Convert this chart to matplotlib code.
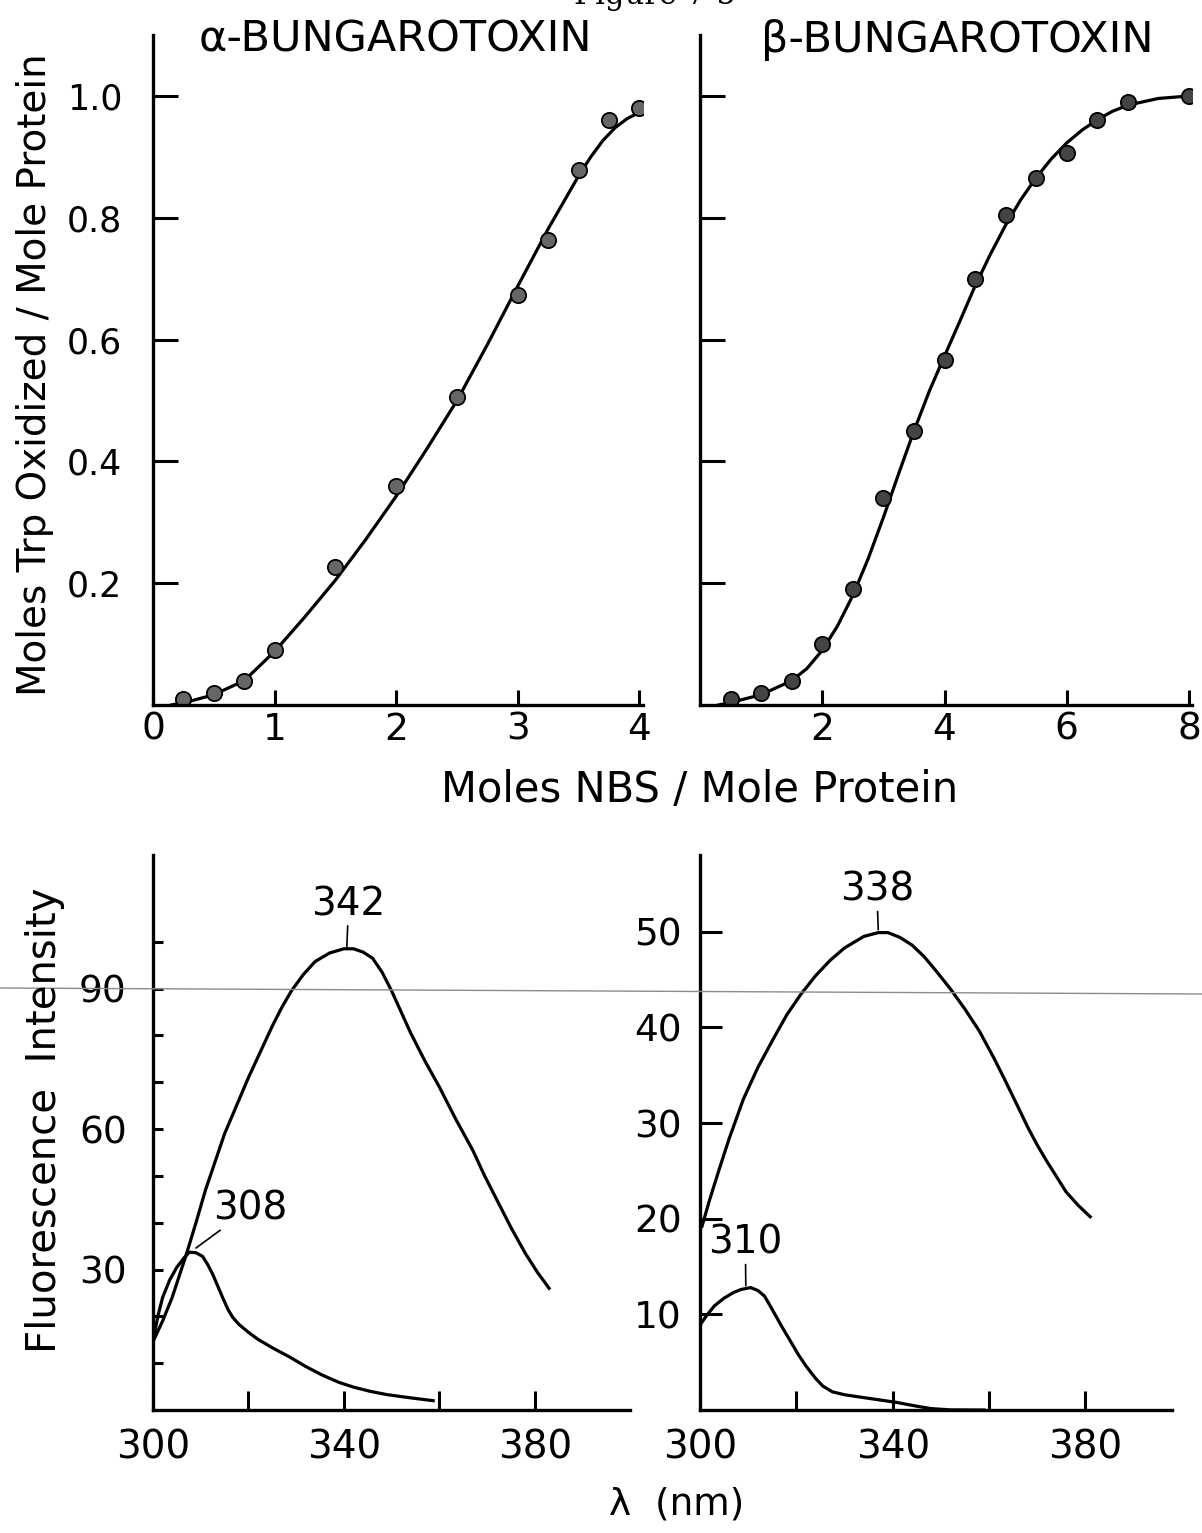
import matplotlib
matplotlib.use('Agg')
from matplotlib import pyplot as plt
from matplotlib.lines import Line2D

plt.rcParams['font.family'] = ['DejaVu Sans']

# top panels: NBS titration points
alpha_nbs = [0.25, 0.5, 0.75, 1.0, 1.5, 2.0, 2.5, 3.0, 3.25, 3.5, 3.75, 4.0]
alpha_trp = [0.01, 0.02, 0.04, 0.09, 0.227, 0.36, 0.505, 0.674, 0.764, 0.878, 0.96, 0.98]
alpha_fit_x = [0.15, 0.3, 0.5, 0.75, 1.0, 1.25, 1.5, 1.75, 2.0, 2.25, 2.5, 2.75,
               3.0, 3.25, 3.5, 3.6, 3.7, 3.8, 3.9, 4.0]
alpha_fit_y = [0.0, 0.006, 0.017, 0.04, 0.088, 0.145, 0.205, 0.272, 0.343, 0.42,
               0.5, 0.592, 0.688, 0.782, 0.869, 0.9, 0.927, 0.948, 0.963, 0.973]

beta_nbs = [0.5, 1.0, 1.5, 2.0, 2.5, 3.0, 3.5, 4.0, 4.5, 5.0, 5.5, 6.0, 6.5, 7.0, 8.0]
beta_trp = [0.01, 0.02, 0.04, 0.10, 0.19, 0.34, 0.45, 0.566, 0.70, 0.805, 0.866,
            0.906, 0.96, 0.99, 1.0]
beta_fit_x = [0.3, 0.5, 1.0, 1.5, 1.75, 2.0, 2.25, 2.5, 2.75, 3.0, 3.25, 3.5, 3.75,
              4.0, 4.25, 4.5, 4.75, 5.0, 5.25, 5.5, 5.75, 6.0, 6.25, 6.5, 6.75,
              7.0, 7.5, 8.0]
beta_fit_y = [0.0, 0.004, 0.017, 0.04, 0.06, 0.09, 0.13, 0.18, 0.24, 0.308, 0.38,
              0.45, 0.515, 0.573, 0.63, 0.688, 0.74, 0.788, 0.83, 0.866, 0.897,
              0.923, 0.944, 0.961, 0.975, 0.985, 0.996, 1.0]

# bottom panels: fluorescence spectra
a342_wl = [300, 302, 304, 307, 309, 311, 313, 315, 317.5, 320, 322.5, 325, 327, 329,
           331.5, 334, 337, 340, 342, 344, 346, 348, 350, 352, 354, 357, 360, 363.5,
           367, 369.5, 372, 375, 378, 380.5, 383]
a342_int = [14.6, 19, 24, 33.3, 40, 47, 53, 59, 65, 71, 76.5, 82, 86, 89.5, 93,
            95.8, 97.6, 98.5, 98.5, 97.8, 96.5, 93.5, 89.5, 85, 80.5, 74.5, 69, 62,
            55.5, 50, 45, 39, 33.5, 29.5, 26]
a308_wl = [300, 301, 302, 303.5, 305, 306.5, 307.6, 309, 310.4, 311.5, 312.5, 313.6,
           314.6, 315.7, 316.7, 318, 320, 322, 325, 328.5, 332, 335.4, 339, 342,
           345.5, 349, 354, 358.7]
a308_int = [14.6, 20, 24, 27.8, 30.5, 32.5, 33.7, 33.6, 32.8, 31, 29, 26.4, 24, 21.5,
            19.8, 18.3, 16.6, 15.1, 13.3, 11.4, 9.3, 7.5, 5.9, 4.9, 4.0, 3.3, 2.6, 2.0]

b338_wl = [300.4, 302, 304, 306, 309, 312, 315, 318, 321, 324, 327, 330, 334, 337,
           339, 341.5, 344, 346.5, 349, 352, 355, 358, 361, 363, 366, 368, 370, 372,
           374, 376, 378.5, 381]
b338_int = [19.2, 22, 25.2, 28.3, 32.5, 35.8, 38.6, 41.3, 43.5, 45.4, 47, 48.3, 49.5,
            49.9, 49.9, 49.4, 48.6, 47.4, 45.9, 44, 41.9, 39.6, 36.8, 34.8, 31.7, 29.6,
            27.7, 26, 24.4, 22.8, 21.4, 20.2]
b310_wl = [300, 301.4, 303, 305, 307, 308.5, 310.5, 312, 313.4, 315, 317, 319, 320.4,
           322, 324, 325.5, 327.5, 330, 334, 340.8, 345, 348, 352, 359]
b310_int = [8.9, 9.9, 10.9, 11.7, 12.3, 12.6, 12.8, 12.5, 11.9, 10.5, 8.7, 7.0, 5.8,
            4.6, 3.3, 2.5, 1.9, 1.6, 1.3, 0.8, 0.4, 0.15, 0.02, 0.0]

# peak labels: (text, label x, label y, line top y, line bottom x, line bottom y)
alpha_peaks = [('342', 341, 104, 103, 340.6, 98.7), ('308', 320.3, 39, 38.5, 309, 34.6)]
beta_peaks = [('338', 336.7, 52.4, 52, 337, 50.2), ('310', 309.4, 15.5, 15.2, 309.5, 13)]

LW = 2.3
fig = plt.figure(figsize=(12.02, 15.33), dpi=100)


def style(ax, ylen, xlen):
    for s in ['top', 'right']:
        ax.spines[s].set_visible(False)
    for s in ['left', 'bottom']:
        ax.spines[s].set_linewidth(2.4)
    ax.tick_params(axis='y', direction='in', length=ylen, width=2.2, labelsize=25, pad=22)
    ax.tick_params(axis='x', direction='in', length=xlen, width=2.2, labelsize=27, pad=5)


# top left
ax1 = fig.add_axes([0.1273, 0.5401, 0.4077, 0.437])
ax1.plot(alpha_fit_x, alpha_fit_y, color='black', lw=LW)
ax1.plot(alpha_nbs, alpha_trp, 'o', ms=11, mfc='#666666', mec='black', mew=1.3)
ax1.set_xlim(0, 4.03)
ax1.set_ylim(0, 1.10)
ax1.set_xticks([0, 1, 2, 3, 4])
ax1.set_yticks([0.2, 0.4, 0.6, 0.8, 1.0])
ax1.set_yticklabels(['0.2', '0.4', '0.6', '0.8', '1.0'])
style(ax1, 18, 11)

# top right
ax2 = fig.add_axes([0.5824, 0.5401, 0.4093, 0.437])
ax2.plot(beta_fit_x, beta_fit_y, color='black', lw=LW)
ax2.plot(beta_nbs, beta_trp, 'o', ms=11, mfc='#444444', mec='black', mew=1.3)
ax2.set_xlim(0, 8.05)
ax2.set_ylim(0, 1.10)
ax2.set_xticks([2, 4, 6, 8])
ax2.set_yticks([0.2, 0.4, 0.6, 0.8, 1.0])
ax2.set_yticklabels([])
style(ax2, 18, 11)

fig.text(395 / 1202, 1 - 40 / 1533, 'α-BUNGAROTOXIN', fontsize=31, ha='center', va='center')
fig.text(957 / 1202, 1 - 40 / 1533, 'β-BUNGAROTOXIN', fontsize=31, ha='center', va='center')
fig.text(35 / 1202, 1 - 375 / 1533, 'Moles Trp Oxidized / Mole Protein', fontsize=28,
         rotation=90, ha='center', va='center')
fig.text(700 / 1202, 1 - 790 / 1533, 'Moles NBS / Mole Protein', fontsize=30,
         ha='center', va='center')

# bottom left
ax3 = fig.add_axes([0.1273, 0.0802, 0.397, 0.362])
ax3.plot(a342_wl, a342_int, color='black', lw=LW)
ax3.plot(a308_wl, a308_int, color='black', lw=LW)
ax3.set_xlim(300, 400)
ax3.set_ylim(0, 118.5)
ax3.set_xticks([300, 320, 340, 360, 380])
ax3.set_xticklabels(['300', '', '340', '', '380'])
ax3.set_yticks(range(10, 101, 10))
ax3.set_yticklabels(['', '', '30', '', '', '60', '', '', '90', ''])
style(ax3, 7, 14)
ax3.tick_params(axis='y', pad=19, labelsize=27)
ax3.tick_params(axis='x', pad=13, labelsize=28)
for txt, lx, ly, ty, bx, by in alpha_peaks:
    ax3.annotate(txt, xy=(bx, by), xytext=(lx, ly), fontsize=28, ha='center', va='bottom',
                 arrowprops=dict(arrowstyle='-', lw=1.2, color='black', shrinkA=0, shrinkB=0))

# bottom right
ax4 = fig.add_axes([0.5824, 0.0802, 0.3927, 0.362])
ax4.plot(b338_wl, b338_int, color='black', lw=LW)
ax4.plot(b310_wl, b310_int, color='black', lw=LW)
ax4.set_xlim(300, 398)
ax4.set_ylim(0, 58)
ax4.set_xticks([300, 320, 340, 360, 380])
ax4.set_xticklabels(['300', '', '340', '', '380'])
ax4.set_yticks([10, 20, 30, 40, 50])
style(ax4, 16, 14)
ax4.tick_params(axis='y', pad=13, labelsize=27)
ax4.tick_params(axis='x', pad=13, labelsize=28)
for txt, lx, ly, ty, bx, by in beta_peaks:
    ax4.annotate(txt, xy=(bx, by), xytext=(lx, ly), fontsize=28, ha='center', va='bottom',
                 arrowprops=dict(arrowstyle='-', lw=1.2, color='black', shrinkA=0, shrinkB=0))

fig.text(45 / 1202, 1 - 1120 / 1533, 'Fluorescence  Intensity', fontsize=29,
         rotation=90, ha='center', va='center')
fig.text(677 / 1202, 1 - 1505 / 1533, 'λ  (nm)', fontsize=27, ha='center', va='center')

# page header, cut off at the top of the scan
fig.text(0.545, 1.003, 'Figure 7-5', fontsize=22, ha='center', va='center',
         family='DejaVu Serif')
# faint scan line across the page
fig.add_artist(Line2D([0, 1], [1 - 988 / 1533, 1 - 994 / 1533], color='0.55', lw=1.0))

plt.savefig('out.png', dpi=100)
